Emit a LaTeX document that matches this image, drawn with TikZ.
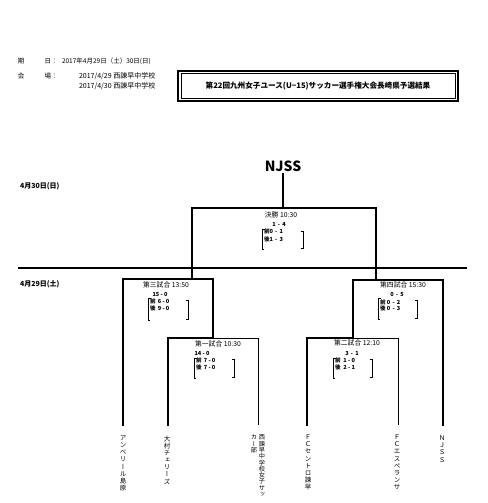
\documentclass[tikz,border=0pt]{standalone}
\usepackage{fontspec}
\setmainfont{Noto Sans CJK JP}
\newfontfamily\vjp{Noto Sans CJK JP}[RawFeature=+vert]
\begin{document}
\begin{tikzpicture}[x=1pt,y=-1pt,
  every node/.style={inner sep=0pt,outer sep=0pt},
  thickline/.style={line width=2.8pt,line join=miter,line cap=rect},
  midline/.style={line width=1.4pt,line join=miter},
  thinline/.style={line width=0.8pt,line join=miter},
  hdr/.style={font=\fontsize{6.5}{7}\selectfont},
  datelbl/.style={font=\fontsize{7}{8}\selectfont\bfseries,anchor=west},
  gametitle/.style={font=\fontsize{6.8}{7}\selectfont},
  score/.style={font=\fontsize{5.6}{6}\selectfont\bfseries},
  half/.style={font=\fontsize{5.6}{6}\selectfont\bfseries,anchor=west},
  brk/.style={line width=0.7pt},
  team/.style={font=\vjp\fontsize{6.5}{7.1}\selectfont,align=center,anchor=north},
  teamtight/.style={font=\vjp\fontsize{6.2}{6.3}\selectfont,align=center,anchor=north}
]
\useasboundingbox (0,0) rectangle (487,503);

% header
\node[hdr] (h1) at (21,61) {期};
\node[hdr] (h2) at (51,61) {日：};
\node[hdr,anchor=west] (h3) at (62,61) {2017年4月29日（土）30日(日)};
\node[hdr] (h4) at (21,76) {会};
\node[hdr] (h5) at (51,76) {場：};
\node[hdr,anchor=west,font=\fontsize{7}{8}\selectfont] (h6) at (79,76) {2017/4/29 西諫早中学校};
\node[hdr,anchor=west,font=\fontsize{7}{8}\selectfont] (h7) at (79,86) {2017/4/30 西諫早中学校};

% title box
\draw[line width=1.3pt] (178,71) rectangle (458,101);
\draw[line width=0.5pt] (181,73.5) rectangle (455.5,98.3);
\node[font=\fontsize{7.6}{8}\selectfont\bfseries] (title) at (318,86) {第22回九州女子ユース(U−15)サッカー選手権大会長崎県予選結果};

% dates
\node[datelbl] (d30) at (20,186) {4月30日(日)};
\node[datelbl] (d29) at (20,284) {4月29日(土)};

% champion
\node[font=\fontsize{14}{15}\selectfont\bfseries] (champ) at (283,166) {NJSS};

% day separator
\coordinate (sepL) at (18,268);
\coordinate (sepR) at (467,268);
\draw[line width=1.8pt] (sepL) -- (sepR);

% coordinates of bracket
\coordinate (fTop) at (283,208);
\coordinate (fL) at (192,208);
\coordinate (fR) at (376,208);
\coordinate (fLb) at (192,279);
\coordinate (fRb) at (376,280);

\coordinate (s3L) at (123,279);
\coordinate (s3R) at (213,279);
\coordinate (s3Rb) at (213,338);
\coordinate (g1L) at (168,338);
\coordinate (g1R) at (258,338);

\coordinate (s4L) at (353,280);
\coordinate (s4R) at (443,280);
\coordinate (s4Lb) at (353,338);
\coordinate (g2L) at (307,338);
\coordinate (g2R) at (398,338);

% team labels
\node[team] (t1) at (123,436) {ア\\ン\\ベ\\リ\\ー\\ル\\島\\原};
\node[team] (t2) at (167,436) {大\\村\\チ\\ェ\\リ\\ー\\ズ};
\node[teamtight] (t3a) at (262,435) {西\\諫\\早\\中\\学\\校\\女\\子\\サ\\ッ};
\node[teamtight] (t3b) at (254,435) {カ\\ー\\部};
\node[team] (t4) at (308,435) {Ｆ\\Ｃ\\セ\\ン\\ト\\ロ\\諫\\早};
\node[team] (t5) at (397,435) {Ｆ\\Ｃ\\エ\\ス\\ペ\\ラ\\ン\\サ};
\node[team] (t6) at (442,436) {Ｎ\\Ｊ\\Ｓ\\Ｓ};

\coordinate (b1) at (123,425);
\coordinate (b2) at (168,425);
\coordinate (b3) at (258,425);
\coordinate (b4) at (307,425);
\coordinate (b5) at (398,425);
\coordinate (b6) at (443,425);

% final
\draw[thickline] (champ.south) ++(0,3) -- (fTop);
\draw[thickline] (fLb) -- (fL) -- (fR) -- (fRb);

% semi-final left (game 3)
\draw[thickline] (b1) -- (s3L) -- (s3R) -- (s3Rb);
% game 1
\draw[thickline] (b2) -- (g1L) -- (s3Rb);
\draw[thinline] (s3Rb) -- (g1R) -- (b3);

% semi-final right (game 4)
\draw[thickline] (s4L) -- (s4R) -- (b6);
\draw[midline] (s4L) -- (s4Lb);
% game 2
\draw[thickline] (b4) -- (g2L) -- (s4Lb);
\draw[thinline] (s4Lb) -- (g2R) -- (b5);

% final texts
\node[gametitle] (fT) at (281,215) {決勝 10:30};
\node[score] (fS) at (279,224) {1 \,-\, 4};
\node[half] (fH1) at (264,231) {前0 \,-\, 1};
\node[half] (fH2) at (264,239) {後1 \,-\, 3};
\draw[brk] (265,229) -- (262,229) -- (262,249) -- (264,249);
\draw[brk] (301,231) -- (303,231) -- (303,248) -- (301,248);

% game 3 texts
\node[gametitle] (g3T) at (166,285) {第三試合 13:50};
\node[score] (g3S) at (160,294) {15 - 0};
\node[half] (g3H1) at (150,301) {前 \,6 - 0};
\node[half] (g3H2) at (150,308) {後 \,9 - 0};
\draw[brk] (151,298) -- (148,298) -- (148,320) -- (150,320);
\draw[brk] (186,300) -- (188,300) -- (188,319) -- (186,319);

% game 1 texts
\node[gametitle] (g1T) at (218,344) {第一試合 10:30};
\node[score] (g1S) at (202,353) {14 - 0};
\node[half] (g1H1) at (196,360) {前 \,7 - 0};
\node[half] (g1H2) at (196,367) {後 \,7 - 0};
\draw[brk] (197,358) -- (194,358) -- (194,378) -- (196,378);
\draw[brk] (232,359) -- (234,359) -- (234,377) -- (232,377);

% game 4 texts
\node[gametitle] (g4T) at (403,285) {第四試合 15:30};
\node[score] (g4S) at (397,294) {0 \,-\, 5};
\node[half] (g4H1) at (380,302) {前 0 \,-\, 2};
\node[half] (g4H2) at (380,308) {後 0 \,-\, 3};
\draw[brk] (381,298) -- (378,298) -- (378,319) -- (380,319);
\draw[brk] (415,300) -- (417,300) -- (417,318) -- (415,318);

% game 2 texts
\node[gametitle] (g2T) at (357,343) {第二試合 12:10};
\node[score] (g2S) at (352,353) {3 \,-\, 1};
\node[half] (g2H1) at (335,360) {前 \;1 - 0};
\node[half] (g2H2) at (335,367) {後 \;2 - 1};
\draw[brk] (336,358) -- (333,358) -- (333,378) -- (335,378);
\draw[brk] (370,359) -- (372,359) -- (372,377) -- (370,377);
\end{tikzpicture}
\end{document}
